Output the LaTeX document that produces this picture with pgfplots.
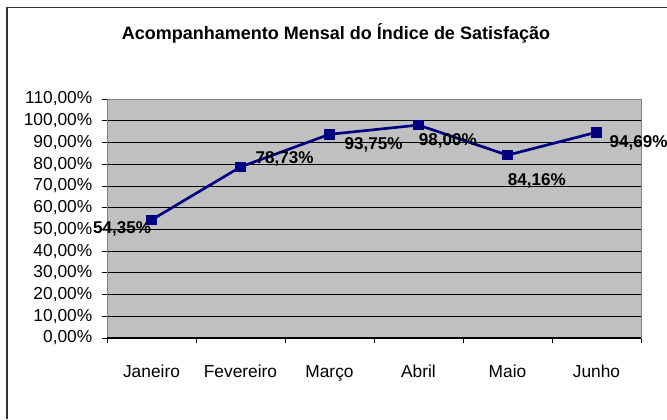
\documentclass[border=0pt]{standalone}
\usepackage{pgfplots}
\pgfplotsset{compat=1.18}
\usepackage{fontspec}
\setmainfont{Liberation Sans}
\definecolor{plotgray}{HTML}{C0C0C0}
\definecolor{navyline}{HTML}{000080}
\begin{document}
\begin{tikzpicture}
\path[use as bounding box, clip] (-80.25pt,-60.75pt) rectangle (420pt,253.5pt);
\begin{axis}[
  at={(0pt,0pt)}, anchor=south west,
  scale only axis, width=400.5pt, height=179.25pt,
  xmin=0, xmax=6, ymin=0, ymax=110,
  axis background/.style={fill=plotgray},
  axis line style={draw=gray},
  ytick={0,10,...,110},
  yticklabels={{0,00\%},{10,00\%},{20,00\%},{30,00\%},{40,00\%},{50,00\%},{60,00\%},{70,00\%},{80,00\%},{90,00\%},{100,00\%},{110,00\%}},
  xtick={0,1,...,6},
  x tick label as interval=true,
  xticklabels={Janeiro,Fevereiro,Março,Abril,Maio,Junho},
  tick align=outside, tick pos=left,
  major tick length=4pt,
  tick style={black, line width=0.6pt},
  ymajorgrids, grid style={black, line width=0.6pt},
  ticklabel style={font=\fontsize{13}{15}\selectfont},
  yticklabel style={xshift=-3.5pt},
  xticklabel style={yshift=-13pt},
  /pgf/number format/assume math mode=true,
  clip=false,
]
\addplot[black, line width=0.8pt, forget plot] coordinates {(0,0) (6,0)};
\addplot[
  color=navyline, line width=2pt,
  mark=square*, mark size=3pt, mark options={fill=navyline, draw=navyline},
  visualization depends on={\thisrow{dx}\as\dx},
  visualization depends on={\thisrow{dy}\as\dy},
  nodes near coords={\pgfmathprintnumber[fixed,fixed zerofill,precision=2,use comma]{\pgfplotspointmeta}\%},
  every node near coord/.append style={anchor=center, xshift=\dx pt, yshift=\dy pt, black, font=\fontsize{12.8}{14}\selectfont\bfseries},
  point meta=y,
] table {
x y dx dy
0.5 54.35 -22 -7
1.5 78.73 33 6
2.5 93.75 33 -8
3.5 98.00 22 -12
4.5 84.16 22 -19.5
5.5 94.69 31.5 -8
};
\end{axis}
% plot area origin = (107px, 338px from top); 1px = 0.75pt
\begin{scope}[x=0.75pt,y=-0.75pt, shift={(-80.25pt,253.5pt)}]
\draw[line width=0.9pt,black!80] (7,419) -- (7,7.5) -- (667,7.5);
\node[font=\fontsize{13.5}{15}\selectfont\bfseries] at (336,33) {Acompanhamento Mensal do Índice de Satisfação};
\end{scope}
\end{tikzpicture}
\end{document}
